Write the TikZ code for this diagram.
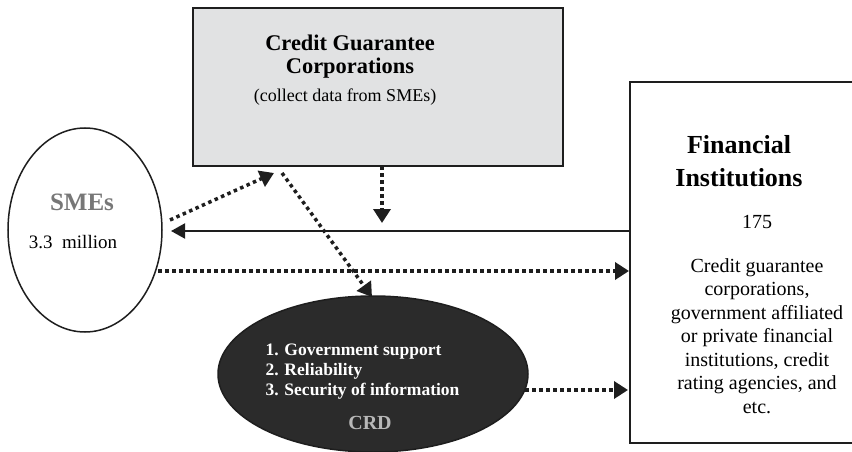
\documentclass[tikz,border=0pt]{standalone}
\usepackage{fontspec}
\setmainfont{Liberation Serif}
\usetikzlibrary{arrows.meta,shapes.geometric,calc}
\definecolor{boxgray}{HTML}{E1E2E3}
\definecolor{crdfill}{HTML}{2B2B2B}
\definecolor{smegray}{HTML}{777777}
\definecolor{crdgray}{HTML}{B8B8B8}
\definecolor{linecol}{HTML}{1E1E1E}
\tikzset{
  dotarrow/.style={draw=linecol, line width=3.5pt, dash pattern=on 3.5pt off 3.5pt,
    -{Triangle[length=14pt,width=17pt]}},
  solidarrow/.style={draw=linecol, line width=2pt, -{Triangle[length=14pt,width=15pt]}},
  rectbox/.style={draw=linecol, line width=2pt, inner sep=0pt, anchor=north west},
  ellbox/.style={ellipse, draw=linecol, line width=1.5pt, inner sep=0pt},
}
\begin{document}
\begin{tikzpicture}[x=1pt,y=-1pt]
\useasboundingbox (0,0) rectangle (852,452);
\clip (0,0) rectangle (852,452);

% boxes
\node[rectbox, fill=boxgray, minimum width=370pt, minimum height=158pt] (cgc) at (192,7) {};
\node[rectbox, fill=white, minimum width=256pt, minimum height=361pt] (fi) at (629,81) {};
\node[ellbox, fill=white, minimum width=154pt, minimum height=204pt] (sme) at (85,230) {};
\node[ellbox, fill=crdfill, minimum width=310pt, minimum height=156pt] (crd) at (373,374) {};

% texts
\node[font=\fontsize{22.4}{23}\selectfont\bfseries, align=center] (cgct) at (350,56.5) {Credit Guarantee\\Corporations};
\node[font=\fontsize{18}{20}\selectfont] (cgcs) at (345,97) {(collect data from SMEs)};

\node[font=\fontsize{25}{28}\selectfont\bfseries, text=smegray] (smet) at (82,202) {SMEs};
\node[font=\fontsize{19}{22}\selectfont] (smen) at (73,242) {3.3\ \ million};

\node[font=\fontsize{26}{33}\selectfont\bfseries, align=center] (fit) at (739,161) {Financial\\Institutions};
\node[font=\fontsize{20}{23}\selectfont] (fin) at (757,222) {175};
\node[font=\fontsize{20}{23.6}\selectfont, align=center] (fid) at (757,336) {Credit guarantee\\corporations,\\government affiliated\\or private financial\\institutions, credit\\rating agencies, and\\etc.};

\node[font=\fontsize{17.5}{20}\selectfont\bfseries, text=white, align=left, anchor=west] (crdl) at (262,372) {1. Government support\\2. Reliability\\3. Security of information};
\node[font=\fontsize{20}{22}\selectfont\bfseries, text=crdgray] (crdt) at (370,423) {CRD};

% connector end points
\coordinate (smeA) at (170,220);
\coordinate (cgcA) at (274,173);
\coordinate (cgcB) at (282,173);
\coordinate (crdA) at (372,297);
\coordinate (cgcC) at (382,166);
\coordinate (lineC) at (382,223);
\coordinate (fiA) at (629,231);
\coordinate (smeB) at (171,231);
\coordinate (smeC) at (158,271);
\coordinate (fiB) at (629,271);
\coordinate (crdB) at (525,390);
\coordinate (fiC) at (628,390);

% connectors
\draw[dotarrow] (smeA) -- (cgcA);
\draw[dotarrow] (cgcB) -- (crdA);
\draw[dotarrow] (cgcC) -- (lineC);
\draw[solidarrow] (fiA) -- (smeB);
\draw[dotarrow] (smeC) -- (fiB);
\draw[dotarrow] (crdB) -- (fiC);
\end{tikzpicture}
\end{document}
